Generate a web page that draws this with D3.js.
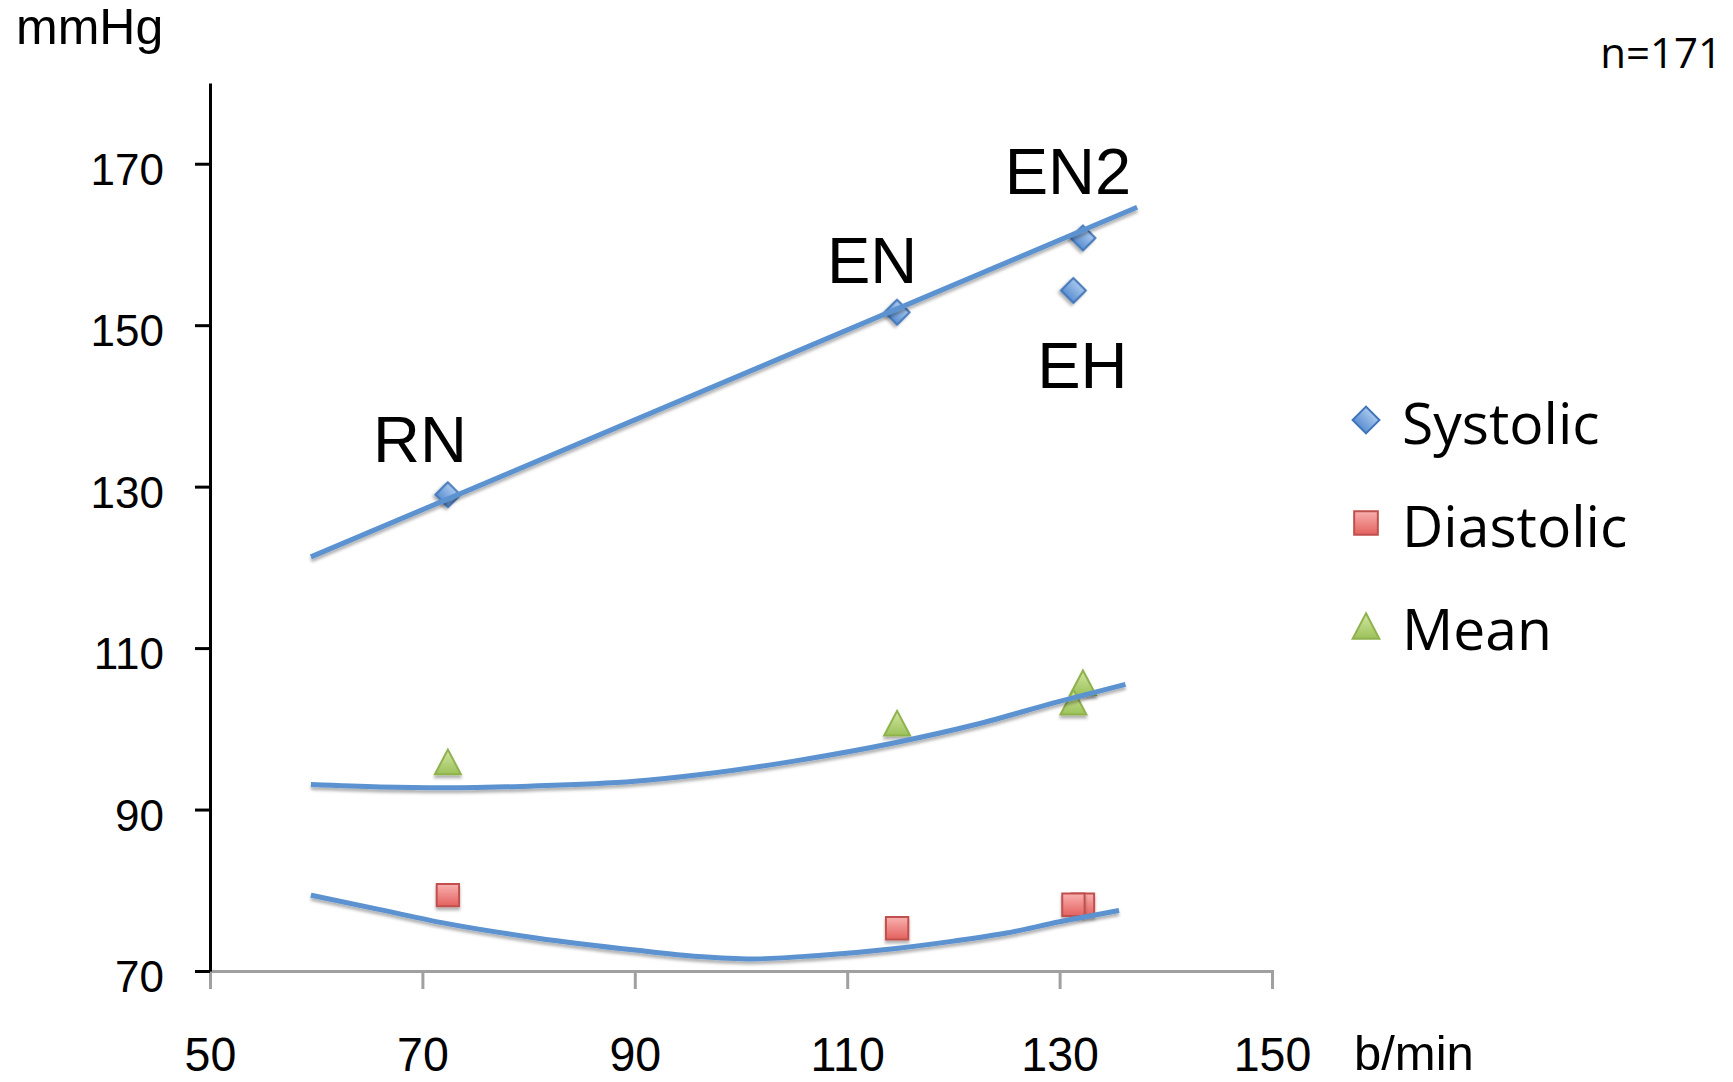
<!DOCTYPE html>
<meta charset="utf-8">
<style>
    body { margin: 0; background: #fff; }
    svg { display: block; }
    .axis--y path, .axis--y line { stroke: #000; stroke-width: 3px; }
    .axis--x path, .axis--x line { stroke: #a0a0a0; stroke-width: 3px; }
    .axis--y text { font-family: "Liberation Sans", Arial, sans-serif; font-size: 44px; fill: #000; }
    .axis--x text { font-family: "Liberation Sans", Arial, sans-serif; font-size: 49px; fill: #000; }
    .trend { fill: none; stroke: #5b92d0; stroke-width: 5px; stroke-linecap: butt; }
    .label { font-family: "Liberation Sans", Arial, sans-serif; font-size: 65px; fill: #000; }
    .legend text { font-family: "Open Sans", sans-serif; font-size: 57px; fill: #000; }
</style>
<svg width="1733" height="1082"></svg>
<script src="https://cdn.jsdelivr.net/npm/d3@7/dist/d3.min.js"></script>
<script>
    // points: RN, EN, EN2, EH
    var pointLabels = ['RN', 'EN', 'EN2', 'EH'];
    var heartRate = [72.4, 114.7, 132.2, 131.3];
    var systolic = [129.0, 151.6, 160.8, 154.3];
    var diastolic = [79.4, 75.3, 78.2, 78.2];
    var mean = [95.9, 100.7, 105.7, 103.3];

    // trend lines [b/min, mmHg]
    var systolicTrend = [[59.5, 121.3], [137.3, 164.6]];
    var diastolicTrend = [[59.5, 79.4], [66, 77.6], [72.2, 75.9], [80.7, 74.1], [90, 72.6], [96, 71.8],
        [101, 71.5], [107, 71.9], [114.6, 72.8], [120, 73.7], [125, 74.7], [130, 76.1], [135.6, 77.5]];
    var meanTrend = [[59.5, 93.1], [66, 92.8], [72, 92.7], [80, 92.9], [90, 93.5], [96, 94.3],
        [105, 96.0], [114.6, 98.3], [122, 100.5], [130, 103.4], [136.2, 105.5]];

    var seriesNames = ['Systolic', 'Diastolic', 'Mean'];
    var xTicks = [50, 70, 90, 110, 130, 150];
    var yTicks = [70, 90, 110, 130, 150, 170];

    var svg = d3.select('svg');
    var x = d3.scaleLinear().domain([50, 150]).range([210, 1272]);
    var y = d3.scaleLinear().domain([70, 180]).range([971, 83]);

    // marker looks
    var styles = {
        Systolic: { top: '#a9c8ee', bottom: '#5b8fd2', stroke: '#3f74b8' },
        Diastolic: { top: '#f8b1b0', bottom: '#e3615e', stroke: '#c0504d' },
        Mean: { top: '#d2e6a2', bottom: '#9cc25a', stroke: '#8fb24e' }
    };

    var triangle = {
        draw: function (context, size) {
            var w = Math.sqrt(size * 2.1), h = w * 0.95;
            context.moveTo(0, -h / 2);
            context.lineTo(w / 2, h / 2);
            context.lineTo(-w / 2, h / 2);
            context.closePath();
        }
    };
    var symbols = {
        Systolic: d3.symbol().type(d3.symbolSquare).size(310),
        Diastolic: d3.symbol().type(d3.symbolSquare).size(500),
        Mean: d3.symbol().type(triangle).size(320)
    };
    var legendSymbols = {
        Systolic: d3.symbol().type(d3.symbolSquare).size(360),
        Diastolic: d3.symbol().type(d3.symbolSquare).size(560),
        Mean: d3.symbol().type(triangle).size(340)
    };
    var rotate = { Systolic: 45, Diastolic: 0, Mean: 0 };

    var defs = svg.append('defs');
    var shadow = defs.append('filter').attr('id', 'shadow')
        .attr('x', '-30%').attr('y', '-30%').attr('width', '160%').attr('height', '180%');
    shadow.append('feDropShadow').attr('dx', 0).attr('dy', 3).attr('stdDeviation', 1.8)
        .attr('flood-color', '#000').attr('flood-opacity', 0.3);

    seriesNames.forEach(function (name) {
        var grad = defs.append('linearGradient').attr('id', 'grad-' + name)
            .attr('x1', 0).attr('y1', 0).attr('x2', 0).attr('y2', 1);
        grad.append('stop').attr('offset', '0%').attr('stop-color', styles[name].top);
        grad.append('stop').attr('offset', '100%').attr('stop-color', styles[name].bottom);
    });

    // axes
    svg.append('g')
        .attr('class', 'axis axis--x')
        .attr('transform', 'translate(0,' + y(70) + ')')
        .call(d3.axisBottom(x).tickValues(xTicks).tickSize(18).tickSizeOuter(18).tickPadding(0))
        .call(function (g) {
            g.selectAll('text').attr('y', 100).attr('dy', null)
                .attr('transform', 'scale(0.95,1)');
        });

    svg.append('g')
        .attr('class', 'axis axis--y')
        .attr('transform', 'translate(' + x(50) + ',0)')
        .call(d3.axisLeft(y).tickValues(yTicks).tickSize(15).tickSizeOuter(0).tickPadding(31))
        .call(function (g) { g.selectAll('text').attr('dy', '0.47em'); });

    svg.selectAll('.axis').attr('font-family', null).attr('font-size', null);

    // markers
    var seriesValues = { Systolic: systolic, Diastolic: diastolic, Mean: mean };
    seriesNames.forEach(function (name) {
        svg.append('g')
            .attr('class', 'markers')
            .selectAll('path')
            .data(heartRate.map(function (hr, i) { return { x: hr, y: seriesValues[name][i] }; }))
            .enter()
            .append('path')
            .attr('transform', function (d) {
                return 'translate(' + x(d.x) + ',' + y(d.y) + ') rotate(' + rotate[name] + ')';
            })
            .attr('d', symbols[name])
            .attr('fill', 'url(#grad-' + name + ')')
            .attr('stroke', styles[name].stroke)
            .attr('stroke-width', 2)
            .attr('filter', 'url(#shadow)');
    });

    // trend lines
    var line = d3.line()
        .x(function (d) { return x(d[0]); })
        .y(function (d) { return y(d[1]); })
        .curve(d3.curveMonotoneX);
    svg.selectAll('.trend')
        .data([systolicTrend, meanTrend, diastolicTrend])
        .enter()
        .append('path')
        .attr('class', 'trend')
        .attr('filter', 'url(#shadow)')
        .attr('d', line);

    // point labels
    var labelOffset = { RN: [-28, -33], EN: [-25, -29], EN2: [-15, -44], EH: [9, 98] };
    svg.selectAll('.label')
        .data(pointLabels)
        .enter()
        .append('text')
        .attr('class', 'label')
        .attr('text-anchor', 'middle')
        .attr('x', function (d, i) { return x(heartRate[i]) + labelOffset[d][0]; })
        .attr('y', function (d, i) { return y(systolic[i]) + labelOffset[d][1]; })
        .text(function (d) { return d; });

    // unit titles
    svg.append('text')
        .attr('x', 16).attr('y', 44)
        .style('font-family', '"Liberation Sans", Arial, sans-serif')
        .style('font-size', '50px')
        .text('mmHg');
    svg.append('text')
        .attr('x', 1354).attr('y', 1070)
        .style('font-family', '"Liberation Sans", Arial, sans-serif')
        .style('font-size', '49px')
        .text('b/min');
    svg.append('text')
        .attr('x', 1722).attr('y', 68)
        .attr('text-anchor', 'end')
        .style('font-family', '"Open Sans", sans-serif')
        .style('font-size', '42px')
        .text('n=171');

    // legend
    var legend = svg.append('g')
        .attr('class', 'legend')
        .attr('transform', 'translate(1366,420)');
    var rows = legend.selectAll('g')
        .data(seriesNames)
        .enter()
        .append('g')
        .attr('transform', function (d, i) { return 'translate(0,' + (i * 103) + ')'; });
    rows.append('path')
        .attr('transform', function (d) { return 'rotate(' + rotate[d] + ')'; })
        .attr('d', function (d) { return legendSymbols[d](); })
        .attr('fill', function (d) { return 'url(#grad-' + d + ')'; })
        .attr('stroke', function (d) { return styles[d].stroke; })
        .attr('stroke-width', 2);
    rows.append('text')
        .attr('x', 36)
        .attr('y', 24)
        .text(function (d) { return d; });
</script>
